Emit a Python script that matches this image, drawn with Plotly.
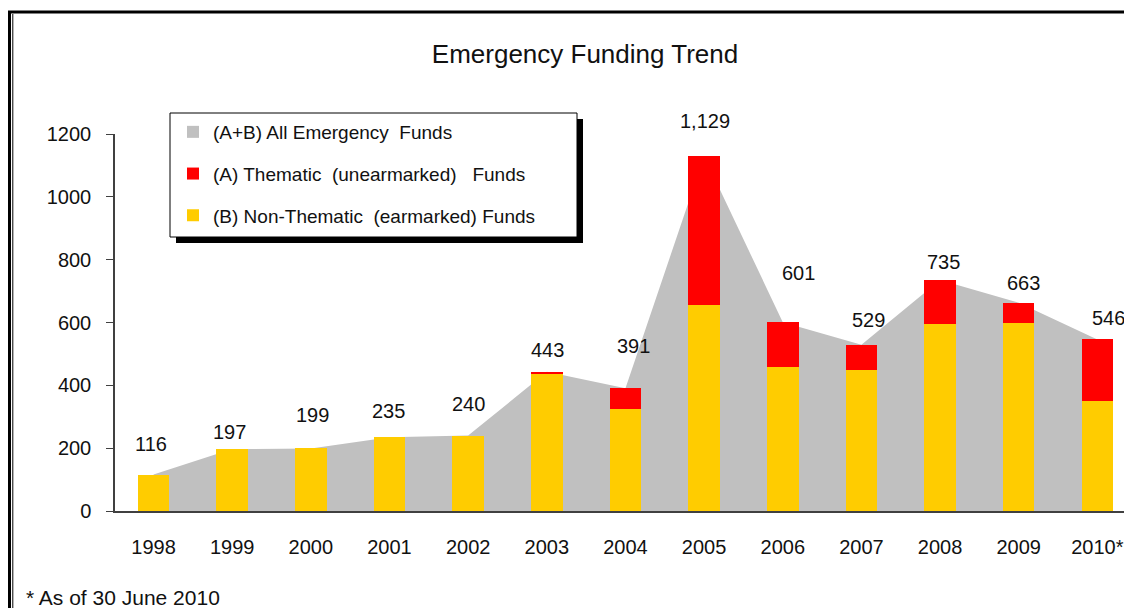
import plotly.graph_objects as go

# ── Data ──────────────────────────────────────────────────────
YEARS = ["1998", "1999", "2000", "2001", "2002", "2003", "2004",
         "2005", "2006", "2007", "2008", "2009", "2010*"]
TOTAL = [116, 197, 199, 235, 240, 443, 391, 1129, 601, 529, 735, 663, 546]
NON_THEMATIC = [116, 197, 199, 235, 240, 438, 326, 656, 459, 448, 596, 600, 351]
THEMATIC = [0, 0, 0, 0, 0, 5, 65, 473, 142, 81, 139, 63, 195]

# hand-placed value labels in the original (pixel nudges)
LBL_DX = [-3, -3, 2, -1, 0, 1, 8, 1, 16, 7, 3, 5, 11]
LBL_DY = [31, 17, 33, 26, 32, 22, 42, 35, 49, 25, 18, 20, 21]

# ── Style ─────────────────────────────────────────────────────
W, H = 1132, 608
OFF = 8  # page body margin in the screenshot
GRAY, RED, YELLOW = "#C0C0C0", "#FF0000", "#FFCC00"
FONT = "Liberation Sans, Arial, sans-serif"
INK = "#111111"
AXIS = "#404040"

def px(x):
    return (x - OFF) / W

def py(y):
    return 1 - (y - OFF) / H

XR = [-0.49, 12.44]
XDOM = [px(115), px(1132)]
YDOM = [py(511), py(134)]

fig = go.Figure()

# total area behind the bars (base axes)
fig.add_trace(go.Scatter(x=YEARS, y=TOTAL, mode="lines", fill="tozeroy",
    fillcolor=GRAY, line=dict(color=GRAY, width=0), showlegend=False,
    hoverinfo="skip"))

# bars on overlaid axes so they sit on top of the area
fig.add_trace(go.Bar(x=YEARS, y=NON_THEMATIC, xaxis="x2", yaxis="y2",
    name="(B) Non-Thematic\u00a0 (earmarked)\u00a0Funds",
    marker=dict(color=YELLOW, line_width=0), legendgroup="b", legendrank=3))
fig.add_trace(go.Bar(x=YEARS, y=THEMATIC, xaxis="x2", yaxis="y2",
    name="(A) Thematic\u00a0 (unearmarked)\u00a0\u00a0 Funds",
    marker=dict(color=RED, line_width=0), legendgroup="a", legendrank=2))
# legend-only entry for the area (square swatch like the original)
fig.add_trace(go.Bar(x=[None], y=[None], xaxis="x2", yaxis="y2",
    name="(A+B) All Emergency\u00a0 Funds",
    marker=dict(color=GRAY, line_width=0), legendgroup="ab", legendrank=1))

# value labels (category index positions)
for i, (v, dx, dy) in enumerate(zip(TOTAL, LBL_DX, LBL_DY)):
    fig.add_annotation(x=i, y=v, text=f"{v:,}", showarrow=False,
        xshift=dx, yshift=dy, yanchor="middle",
        font=dict(family=FONT, size=20, color=INK))

# footnote
fig.add_annotation(xref="paper", yref="paper", x=px(24), y=py(597),
    text="* As of 30 June 2010", showarrow=False, xanchor="left",
    yanchor="middle", font=dict(family=FONT, size=21, color=INK))

shapes = [
    # outer double frame
    dict(type="rect", xref="paper", yref="paper", x0=px(9.5), y0=py(12),
         x1=px(1160), y1=py(640), line=dict(color="black", width=3)),
    dict(type="line", xref="paper", yref="paper", x0=px(12.8), y0=py(14),
         x1=px(12.8), y1=py(640), line=dict(color="black", width=1)),
    # legend box with drop shadow
    dict(type="rect", xref="paper", yref="paper", x0=px(176), y0=py(119),
         x1=px(583), y1=py(243), fillcolor="black", line_width=0, layer="above"),
    dict(type="rect", xref="paper", yref="paper", x0=px(170), y0=py(113),
         x1=px(577), y1=py(237), fillcolor="white",
         line=dict(color="black", width=1), layer="above"),
]

fig.update_layout(
    width=W, height=H,
    margin=dict(l=0, r=0, t=0, b=0, autoexpand=False),
    paper_bgcolor="white", plot_bgcolor="white",
    font=dict(family=FONT, size=20, color=INK),
    barmode="stack", bargap=0.6,
    title=dict(text="Emergency Funding Trend", x=px(585), y=py(54),
               xanchor="center", yanchor="middle",
               font=dict(family=FONT, size=26, color=INK)),
    xaxis=dict(domain=XDOM, range=XR, type="category", automargin=False,
               showline=True, linecolor=AXIS, linewidth=1.5, ticks="",
               showgrid=False, ticklabelstandoff=17,
               tickfont=dict(family=FONT, size=20, color=INK)),
    yaxis=dict(domain=YDOM, range=[0, 1200], dtick=200, automargin=False,
               showline=True, linecolor=AXIS, linewidth=1.5, ticks="outside",
               ticklen=7, tickcolor=AXIS, showgrid=False, zeroline=False,
               ticklabelstandoff=11,
               tickfont=dict(family=FONT, size=20, color=INK)),
    xaxis2=dict(domain=XDOM, range=XR, type="category", overlaying="x",
                visible=False, automargin=False),
    yaxis2=dict(domain=YDOM, range=[0, 1200], overlaying="y",
                visible=False, automargin=False),
    legend=dict(x=px(173), y=py(113), xanchor="left", yanchor="top",
                bgcolor="rgba(0,0,0,0)", borderwidth=0,
                traceorder="grouped", tracegroupgap=14,
                font=dict(family=FONT, size=19, color=INK)),
    shapes=shapes,
    showlegend=True,
)

fig.write_html("out.html")
